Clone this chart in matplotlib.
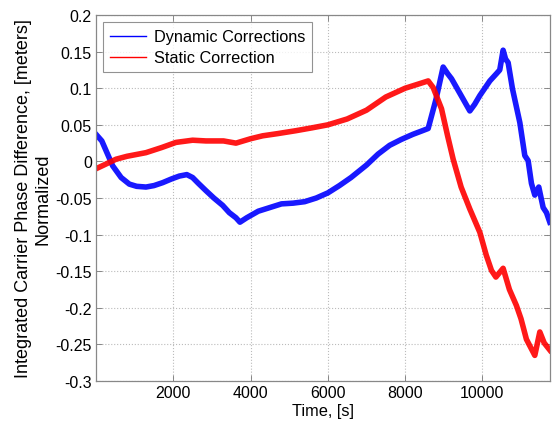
import numpy as np
import matplotlib.pyplot as plt
from matplotlib.lines import Line2D

plt.rcParams['font.family'] = ['Liberation Sans', 'DejaVu Sans']

# Dynamic Corrections (blue)
dyn_t = [0, 150, 431, 650, 862, 1050, 1293, 1500, 1725, 1950, 2156, 2350,
         2500, 2650, 2846, 3050, 3277, 3450, 3622, 3725, 3900, 4200, 4500,
         4800, 5100, 5400, 5700, 6000, 6300, 6600, 7000, 7300, 7600, 7900,
         8200, 8450, 8597, 8800, 8985, 9100, 9202, 9450, 9675, 9800, 9934,
         10193, 10366, 10450, 10537, 10600, 10667, 10780, 10970, 11098,
         11185, 11270, 11357, 11460, 11573, 11660, 11745]
dyn_y = [0.037, 0.028, -0.006, -0.022, -0.031, -0.034, -0.035, -0.033,
         -0.029, -0.024, -0.02, -0.018, -0.022, -0.03, -0.04, -0.05, -0.06,
         -0.07, -0.077, -0.083, -0.077, -0.068, -0.063, -0.058, -0.057,
         -0.055, -0.05, -0.043, -0.033, -0.022, -0.005, 0.01, 0.022, 0.03,
         0.037, 0.042, 0.045, 0.085, 0.129, 0.12, 0.113, 0.09, 0.069, 0.078,
         0.09, 0.11, 0.12, 0.125, 0.152, 0.14, 0.135, 0.099, 0.053, 0.008,
         0.001, -0.03, -0.046, -0.035, -0.063, -0.07, -0.083]

# Static Correction (red)
sta_t = [0, 200, 517, 800, 1293, 1700, 2070, 2500, 2846, 3300, 3622,
         4000, 4312, 4700, 5174, 5600, 6000, 6500, 7000, 7500, 8000, 8300,
         8597, 8726, 8942, 9100, 9244, 9450, 9675, 9935, 10100, 10236,
         10350, 10537, 10700, 10882, 11000, 11140, 11357, 11487, 11600,
         11750]
sta_y = [-0.01, -0.005, 0.003, 0.007, 0.012, 0.019, 0.026, 0.029, 0.028,
         0.028, 0.025, 0.031, 0.035, 0.038, 0.042, 0.046, 0.05, 0.058, 0.07,
         0.088, 0.1, 0.105, 0.11, 0.101, 0.072, 0.035, 0.003, -0.035, -0.065,
         -0.097, -0.128, -0.149, -0.158, -0.146, -0.175, -0.197, -0.215,
         -0.243, -0.265, -0.233, -0.248, -0.258]

x_ticks = [2000, 4000, 6000, 8000, 10000]
y_ticks = [-0.3, -0.25, -0.2, -0.15, -0.1, -0.05, 0, 0.05, 0.1, 0.15, 0.2]
y_labels = ['-0.3', '-0.25', '-0.2', '-0.15', '-0.1', '-0.05', '0',
            '0.05', '0.1', '0.15', '0.2']

fig = plt.figure(figsize=(5.57, 4.27), dpi=100)
ax = fig.add_axes([0.1724, 0.1054, 0.815, 0.857])

ax.plot(dyn_t, dyn_y, color='#0000ff', linewidth=4.0, alpha=0.9)
ax.plot(sta_t, sta_y, color='#ff0000', linewidth=4.0, alpha=0.9)

ax.set_xlim(0, 11750)
ax.set_ylim(-0.3, 0.2)
ax.set_xticks(x_ticks)
ax.set_xticklabels([str(v) for v in x_ticks])
ax.set_yticks(y_ticks)
ax.set_yticklabels(y_labels)
ax.tick_params(direction='in', top=True, right=True, labelsize=11.5,
               color='#777777', length=4, width=0.6, pad=3)
ax.grid(True, linestyle=':', color='#bbbbbb', linewidth=0.8)
for s in ax.spines.values():
    s.set_color('#888888')
    s.set_linewidth(0.9)

ax.set_xlabel('Time, [s]', fontsize=11.8, labelpad=2)
ax.set_ylabel('Integrated Carrier Phase Difference, [meters]\nNormalized',
              fontsize=13, linespacing=1.15, labelpad=3)

handles = [Line2D([], [], color='#0000ff', linewidth=1.0),
           Line2D([], [], color='#ff0000', linewidth=1.0)]
leg = ax.legend(handles, ['Dynamic Corrections', 'Static Correction'],
                loc='upper left', fontsize=11.7, fancybox=False,
                borderaxespad=0.45, handlelength=2.2, handletextpad=0.5,
                labelspacing=0.38, borderpad=0.42)
leg.get_frame().set_edgecolor('#777777')
leg.get_frame().set_linewidth(0.8)

fig.savefig('out.png', dpi=100)
